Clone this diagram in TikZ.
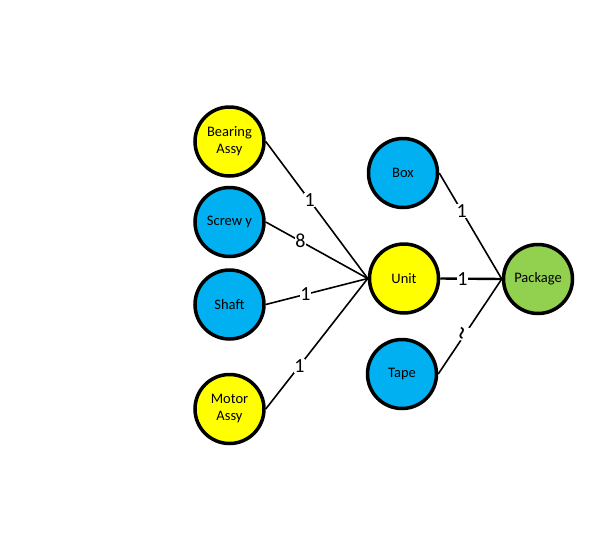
\documentclass[tikz,border=0pt]{standalone}
\usepackage{fontspec}
\setmainfont{Carlito}
\definecolor{partyellow}{HTML}{FFFF00}
\definecolor{partblue}{HTML}{00B0F0}
\definecolor{partgreen}{HTML}{92D050}
\begin{document}
\begin{tikzpicture}[x=1pt,y=-1pt,
    part/.style={circle, draw=black, line width=3.5pt, minimum size=69pt, inner sep=0pt, align=center, font=\fontsize{14.5}{17}\selectfont},
    link/.style={line width=1.6pt},
    qty/.style={fill=white, inner sep=0.6pt, font=\fontsize{20}{20}\selectfont}]
    \useasboundingbox (0,0) rectangle (595,536); % page
    \node[part, fill=partyellow] (bearing) at (229.5,141.5) {Bearing\\Assy}; % left column
    \node[part, fill=partblue] (screwy) at (229.5,222) {Screw y};
    \node[part, fill=partblue] (shaft) at (229.5,304.5) {Shaft};
    \node[part, fill=partyellow] (motor) at (229.5,409) {Motor\\Assy};
    \node[part, fill=partblue] (box) at (403,173) {Box}; % middle column
    \node[part, fill=partyellow] (unit) at (404,278.5) {Unit};
    \node[part, fill=partblue] (tape) at (402,374) {Tape};
    \node[part, fill=partgreen] (package) at (538,279) {Package}; % right
    \draw[link] (bearing.east) -- node[qty, pos=0.43] {1} (unit.west); % bearing assy
    \draw[link] (screwy.east) -- node[qty, pos=0.34] {8} (unit.west); % screwy
    \draw[link] (shaft.east) -- node[qty, pos=0.39] {1} (unit.west); % shaft
    \draw[link] (motor.east) -- node[qty, pos=0.33] {1} (unit.west); % motor assy
    \draw[link] (box.east) -- node[qty, pos=0.36] {1} (package.west); % box
    \draw[line width=2.4pt] (unit.east) -- node[qty, pos=0.36] {1} (package.west); % unit
    \draw[link] (tape.east) -- node[qty, pos=0.42, rotate=75, font=\fontsize{26}{26}\selectfont] {\textasciitilde} (package.west); % tape
\end{tikzpicture}
\end{document}
